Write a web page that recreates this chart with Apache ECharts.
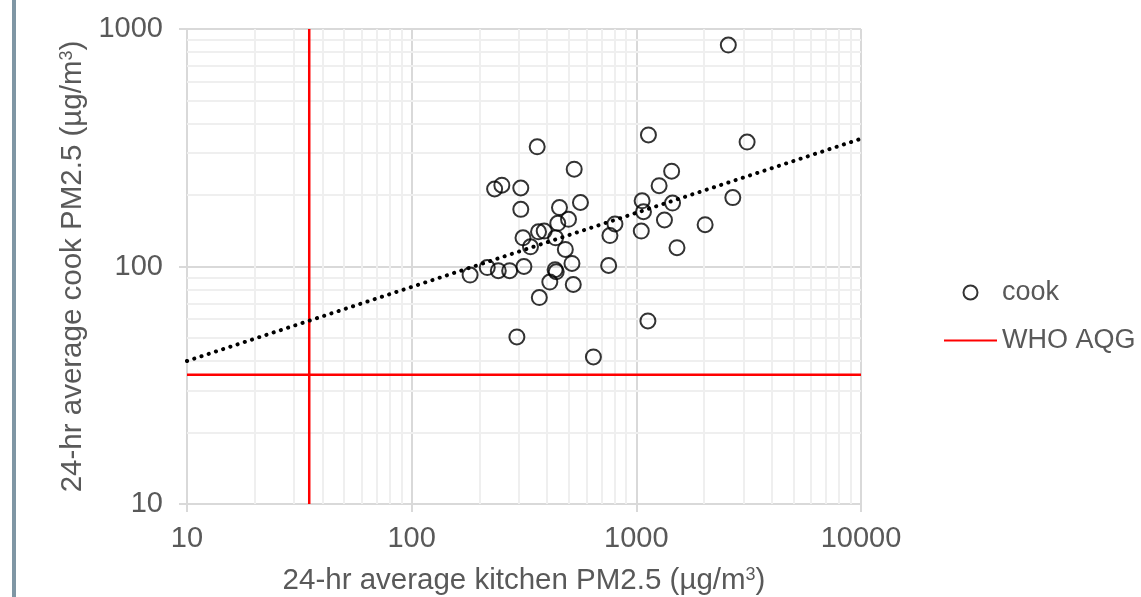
<!DOCTYPE html>
<html>
<head>
<meta charset="utf-8">
<script src="https://cdn.jsdelivr.net/npm/echarts@6/dist/echarts.min.js"></script>
<style>
  html, body { margin: 0; padding: 0; background: #fff; }
  #main { width: 1141px; height: 597px; }
</style>
</head>
<body>
<div id="main"></div>
<script>
// kitchen vs cook 24-hr PM2.5
var kitchen = [2567, 1132, 3112, 362, 529, 1436, 234, 252, 306, 1263,
  564, 1061, 1449, 2688, 306, 455, 1076, 499, 447, 1334,
  803, 2024, 367, 389, 1052, 763, 313, 437, 338, 483,
  1517, 217, 243, 273, 182, 316, 517, 435, 440, 753,
  412, 524, 370, 1126, 294, 644]
var cook = [856, 358, 334, 319, 257, 252, 212, 220, 214, 219,
  186, 189, 185, 195, 174, 177, 170, 158, 152, 157,
  151, 150, 140, 141, 141, 135, 132, 132, 121, 118,
  120, 99, 96, 96, 92, 100, 103, 97, 95, 101,
  86, 84, 74, 59, 50.5, 41.6]

// power trend line end points
var trendX = [10, 10000]
var trendY = [40, 345]

// WHO guideline value
var aqg = 35

// minor grid values
var minorX = [20, 30, 40, 50, 60, 70, 80, 90, 200, 300, 400, 500, 600, 700, 800, 900,
  2000, 3000, 4000, 5000, 6000, 7000, 8000, 9000]
var minorY = [20, 30, 40, 50, 60, 70, 80, 90, 200, 300, 400, 500, 600, 700, 800, 900]

var font = 'Liberation Sans, Arial, sans-serif'
var textColor = '#595959'

var points = kitchen.map(function (k, i) { return [k, cook[i]] })
var trend = trendX.map(function (x, i) { return [x, trendY[i]] })

var minorLines = []
minorX.forEach(function (v) { minorLines.push({ xAxis: v }) })
minorY.forEach(function (v) { minorLines.push({ yAxis: v }) })

var supStyle = { fontSize: 18, color: textColor, fontFamily: font, verticalAlign: 'top' }

var chart = echarts.init(document.getElementById('main'))
chart.setOption({
  animation: false,
  textStyle: { fontFamily: font },
  grid: { left: 187, top: 29, width: 674, height: 475, containLabel: false, outerBoundsMode: 'none' },
  graphic: [{
    type: 'rect',
    shape: { x: 12, y: 0, width: 4, height: 597 },
    style: { fill: '#7f96a4' }
  }],
  legend: {
    orient: 'vertical',
    left: 943,
    top: 279,
    padding: 0,
    itemWidth: 53,
    itemHeight: 14,
    itemGap: 21,
    data: [{ name: 'cook' }, { name: 'WHO AQG', itemStyle: { opacity: 0 } }],
    textStyle: { fontSize: 27, color: textColor, fontFamily: font }
  },
  xAxis: {
    type: 'log',
    logBase: 10,
    min: 10,
    max: 10000,
    name: '24-hr average kitchen PM2.5 (µg/m{sup|3})',
    nameLocation: 'middle',
    nameGap: 62,
    nameTextStyle: {
      fontSize: 29.5, color: textColor, fontFamily: font,
      rich: { sup: supStyle }
    },
    axisLine: { lineStyle: { color: '#d9d9d9', width: 2 } },
    axisTick: { show: true, length: 8, lineStyle: { color: '#d9d9d9', width: 2 } },
    axisLabel: {
      fontSize: 29, color: textColor, margin: 20, fontFamily: font,
      formatter: function (v) { return String(v) }
    },
    splitLine: { show: true, lineStyle: { color: '#d9d9d9', width: 2 } }
  },
  yAxis: {
    type: 'log',
    logBase: 10,
    min: 10,
    max: 1000,
    name: '24-hr average cook PM2.5 (µg/m{sup|3})',
    nameLocation: 'middle',
    nameGap: 99,
    nameTextStyle: {
      fontSize: 29.5, color: textColor, fontFamily: font,
      rich: { sup: supStyle }
    },
    axisLine: { show: true, lineStyle: { color: '#d9d9d9', width: 2 } },
    axisTick: { show: true, length: 8, lineStyle: { color: '#d9d9d9', width: 2 } },
    axisLabel: {
      fontSize: 29, color: textColor, margin: 24, fontFamily: font,
      formatter: function (v) { return String(v) }
    },
    splitLine: { show: true, lineStyle: { color: '#d9d9d9', width: 2 } }
  },
  series: [
    {
      name: 'grid',
      type: 'line',
      data: [],
      z: 1,
      silent: true,
      markLine: {
        silent: true,
        z: 1,
        symbol: 'none',
        label: { show: false },
        lineStyle: { color: '#efefef', width: 2, type: 'solid' },
        data: minorLines
      }
    },
    {
      name: 'WHO AQG',
      type: 'line',
      symbol: 'none',
      z: 6,
      lineStyle: { color: '#ff0000', width: 2.5 },
      itemStyle: { color: '#ff0000' },
      data: [[aqg, 10], [aqg, 1000]]
    },
    {
      name: 'WHO AQG',
      type: 'line',
      symbol: 'none',
      z: 6,
      lineStyle: { color: '#ff0000', width: 2.5 },
      itemStyle: { color: '#ff0000' },
      data: [[10, aqg], [10000, aqg]]
    },
    {
      name: 'trend',
      type: 'line',
      symbol: 'none',
      z: 7,
      lineStyle: { color: '#000', width: 4, type: [0.1, 7.5], cap: 'round' },
      data: trend
    },
    {
      name: 'cook',
      type: 'scatter',
      symbol: 'circle',
      symbolSize: 15,
      z: 8,
      itemStyle: { color: 'rgba(255,255,255,0)', borderColor: '#000', borderWidth: 2 },
      data: points
    }
  ]
})
</script>
</body>
</html>
